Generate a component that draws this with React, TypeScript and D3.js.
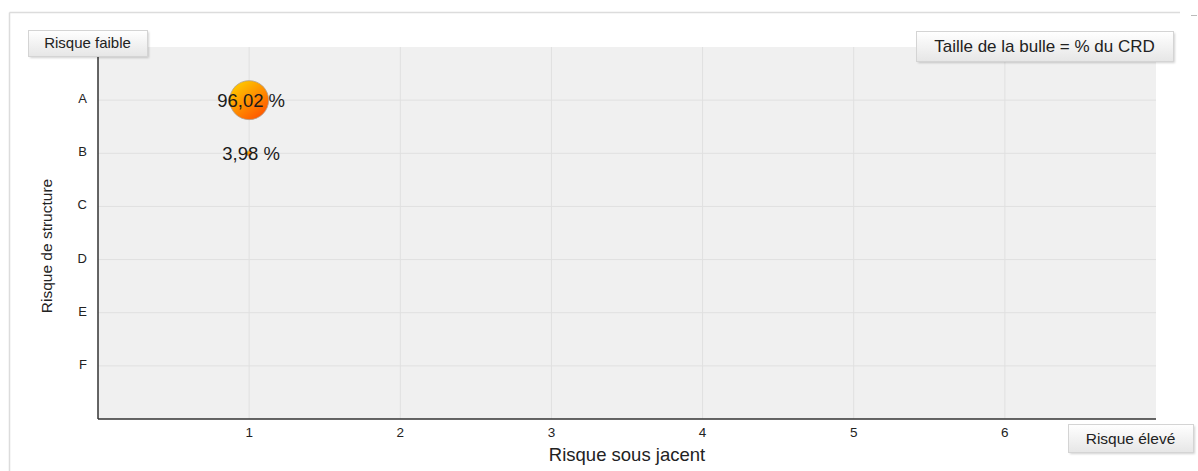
import React from "react";
import * as d3 from "d3";

// Axis categories and bubble data
const xTicks = [1, 2, 3, 4, 5, 6];
const yCategories = ["A", "B", "C", "D", "E", "F"];
const bubbleX = [1, 1];
const bubbleY = ["A", "B"];
const bubbleValues = [96.02, 3.98];

const W = 1198;
const H = 471;
const margin = { left: 98, right: 1156, top: 47, bottom: 419 };
const FONT = "'Liberation Sans', Arial, Helvetica, sans-serif";

function Button({ x, y, w, h, label, size }: { x: number; y: number; w: number; h: number; label: string; size: number }) {
  return (
    <g>
      <rect x={x + 2} y={y + 2} width={w} height={h} fill="#000" opacity={0.18} filter="url(#btnShadow)" />
      <rect x={x + 0.5} y={y + 0.5} width={w} height={h} fill="url(#btnGrad)" stroke="#d4d4d4" />
      <text x={x + w / 2} y={y + h / 2 + size * 0.36} textAnchor="middle" fontSize={size} fill="#222" fontFamily={FONT}>
        {label}
      </text>
    </g>
  );
}

export default function App() {
  const x = d3.scaleLinear().domain([0, 7]).range([margin.left, margin.right]);
  const yIndex = d3.scaleLinear().domain([0, 7]).range([margin.top, margin.bottom]);
  const y = (c: string) => yIndex(yCategories.indexOf(c) + 1);
  const r = d3.scaleSqrt().domain([3.98, 96.02]).range([2.6, 19.5]);
  const fmt = (v: number) => v.toFixed(2).replace(".", ",") + " %";

  return (
    <svg width={W} height={H} style={{ position: "absolute", left: 0, top: 0, background: "#fff" }}>
      <defs>
        <linearGradient id="btnGrad" x1="0" y1="0" x2="0" y2="1">
          <stop offset="0" stopColor="#ffffff" />
          <stop offset="1" stopColor="#e6e6e6" />
        </linearGradient>
        <linearGradient id="bubbleGrad" x1="0.2" y1="0.1" x2="0.8" y2="0.9">
          <stop offset="0" stopColor="#ffc400" />
          <stop offset="1" stopColor="#ff5a00" />
        </linearGradient>
        <filter id="btnShadow" x="-10%" y="-30%" width="120%" height="160%">
          <feGaussianBlur stdDeviation="1.2" />
        </filter>
      </defs>

      {/* container frame */}
      <line x1={9.5} y1={12.5} x2={1180} y2={12.5} stroke="#dcdcdc" strokeWidth={1.5} />
      <line x1={9.5} y1={12.5} x2={9.5} y2={H} stroke="#dcdcdc" strokeWidth={1.5} />
      <line x1={1191} y1={15.5} x2={1197} y2={15.5} stroke="#bbb" strokeWidth={1} />

      {/* plot background */}
      <rect x={margin.left} y={margin.top} width={margin.right - margin.left} height={margin.bottom - margin.top} fill="#f0f0f0" />

      {/* grid */}
      {xTicks.map((t) => (
        <line key={"gx" + t} x1={x(t)} x2={x(t)} y1={margin.top} y2={margin.bottom} stroke="#e0e0e0" />
      ))}
      {yCategories.map((c) => (
        <line key={"gy" + c} x1={margin.left} x2={margin.right} y1={y(c)} y2={y(c)} stroke="#e0e0e0" />
      ))}

      {/* axes */}
      <line x1={margin.left} x2={margin.left} y1={margin.top + 6} y2={margin.bottom} stroke="#333" strokeWidth={1.5} />
      <line x1={margin.left} x2={margin.right} y1={margin.bottom} y2={margin.bottom} stroke="#333" strokeWidth={1.5} />

      {/* tick labels */}
      {xTicks.map((t) => (
        <text key={"tx" + t} x={x(t)} y={437} textAnchor="middle" fontSize={13.5} fill="#222" fontFamily={FONT}>
          {t}
        </text>
      ))}
      {yCategories.map((c) => (
        <text key={"ty" + c} x={87} y={y(c) + 3} textAnchor="end" fontSize={13} fill="#222" fontFamily={FONT}>
          {c}
        </text>
      ))}

      {/* axis titles */}
      <text x={(margin.left + margin.right) / 2} y={461} textAnchor="middle" fontSize={18.5} fill="#222" fontFamily={FONT}>
        Risque sous jacent
      </text>
      <text
        transform={`translate(52, 246) rotate(-90)`}
        textAnchor="middle"
        fontSize={15.5}
        fill="#222"
        fontFamily={FONT}
      >
        Risque de structure
      </text>

      {/* bubbles */}
      {bubbleValues.map((v, i) => (
        <circle
          key={"b" + i}
          cx={x(bubbleX[i])}
          cy={y(bubbleY[i])}
          r={r(v)}
          fill="url(#bubbleGrad)"
          stroke="#b0a090"
          strokeWidth={0.8}
        />
      ))}
      {bubbleValues.map((v, i) => (
        <text
          key={"bl" + i}
          x={x(bubbleX[i]) + 2}
          y={y(bubbleY[i]) + 6.5}
          textAnchor="middle"
          fontSize={18.5}
          fill="#1a1a1a"
          fontFamily={FONT}
        >
          {fmt(v)}
        </text>
      ))}

      {/* annotation boxes */}
      <Button x={28} y={30} w={119} h={26} label="Risque faible" size={15} />
      <Button x={916} y={31} w={257} h={30} label="Taille de la bulle = % du CRD" size={17} />
      <Button x={1068} y={424} w={125} h={28} label="Risque élevé" size={15.5} />
    </svg>
  );
}
